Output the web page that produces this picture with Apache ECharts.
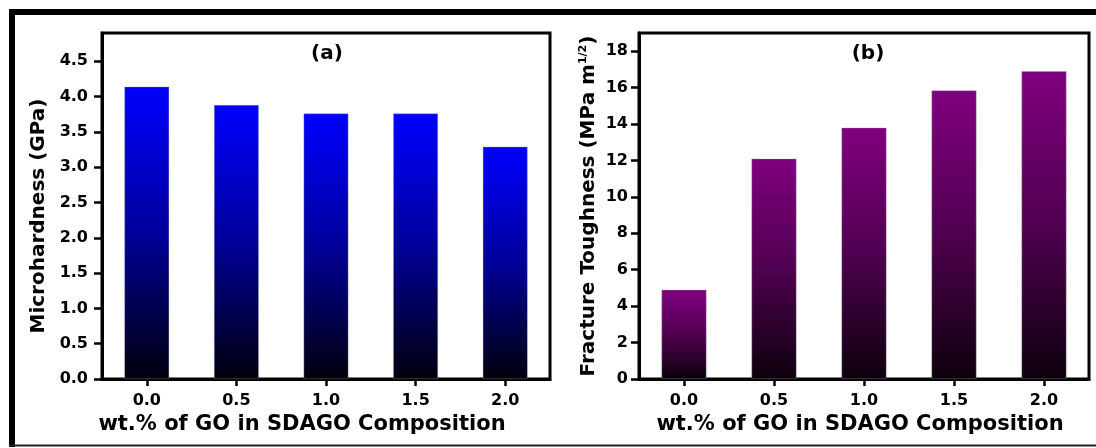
<!DOCTYPE html>
<html>
<head>
<meta charset="utf-8">
<script src="https://cdn.jsdelivr.net/npm/echarts@6.0.0/dist/echarts.min.js"></script>
<style>
  html, body { margin: 0; padding: 0; background: #fff; }
  #chart { width: 1096px; height: 448px; }
</style>
</head>
<body>
<div id="chart"></div>
<script>
// GO content of the SDAGO composites (wt.%)
const categories = ['0.0', '0.5', '1.0', '1.5', '2.0'];
// (a) Vickers microhardness, GPa
const hardness = [4.14, 3.88, 3.76, 3.76, 3.29];
// (b) fracture toughness, MPa m^1/2
const toughness = [4.9, 12.1, 13.8, 15.85, 16.9];
// tick values shown on each value axis
const hardnessTicks = [0, 0.5, 1, 1.5, 2, 2.5, 3, 3.5, 4, 4.5];
const toughnessTicks = [0, 2, 4, 6, 8, 10, 12, 14, 16, 18];

const FONT = 'DejaVu Sans';
const xName = 'wt.% of GO in SDAGO Composition';

function fade(top, mid, bottom) {
  return new echarts.graphic.LinearGradient(0, 0, 0, 1, [
    { offset: 0, color: top },
    { offset: 0.5, color: mid },
    { offset: 1, color: bottom }
  ]);
}

function categoryAxis(gridIndex, namePad) {
  return {
    type: 'category',
    gridIndex,
    data: categories,
    boundaryGap: true,
    name: xName,
    nameLocation: 'middle',
    nameGap: 31,
    nameTextStyle: { fontFamily: FONT, fontWeight: 'bold', fontSize: 21, color: '#000', padding: namePad },
    axisLine: { show: true, lineStyle: { color: '#000', width: 3 } },
    axisTick: { show: true, alignWithLabel: true, inside: false, length: 7, lineStyle: { color: '#000', width: 2.5 } },
    axisLabel: { fontFamily: FONT, fontWeight: 'bold', fontSize: 16, color: '#000', margin: 14 },
    splitLine: { show: false }
  };
}

function valueAxis(gridIndex, max, ticks, fmt, opts) {
  return Object.assign({
    type: 'value',
    gridIndex,
    min: 0,
    max,
    nameLocation: 'middle',
    nameRotate: 90,
    axisLine: { show: true, lineStyle: { color: '#000', width: 3 } },
    axisTick: { show: true, inside: false, length: 8, customValues: ticks, lineStyle: { color: '#000', width: 2.5 } },
    axisLabel: { fontFamily: FONT, fontWeight: 'bold', fontSize: 16, color: '#000', customValues: ticks, formatter: fmt },
    splitLine: { show: false }
  }, opts);
}

const chart = echarts.init(document.getElementById('chart'), null, { renderer: 'canvas' });

chart.setOption({
  backgroundColor: '#fff',
  animation: false,
  title: [
    { text: '(a)', left: 322, top: 39, textAlign: 'center',
      textStyle: { fontFamily: FONT, fontWeight: 'bold', fontSize: 20, color: '#000' } },
    { text: '(b)', left: 863, top: 39, textAlign: 'center',
      textStyle: { fontFamily: FONT, fontWeight: 'bold', fontSize: 20, color: '#000' } }
  ],
  grid: [
    { left: 102, top: 33, width: 448, height: 346, show: true, borderColor: '#000', borderWidth: 3, backgroundColor: 'transparent' },
    { left: 639, top: 33, width: 450, height: 346, show: true, borderColor: '#000', borderWidth: 3, backgroundColor: 'transparent' }
  ],
  xAxis: [categoryAxis(0, [0, 48, 0, 0]), categoryAxis(1, [0, 8, 0, 0])],
  yAxis: [
    valueAxis(0, 4.9, hardnessTicks, v => v.toFixed(1), {
      name: 'Microhardness (GPa)',
      nameGap: 53,
      nameTextStyle: { fontFamily: FONT, fontWeight: 'bold', fontSize: 20, color: '#000', padding: [0, 20, 0, 0] },
      axisLabel: { fontFamily: FONT, fontWeight: 'bold', fontSize: 16, color: '#000', margin: 14,
        customValues: hardnessTicks, formatter: v => v.toFixed(1) }
    }),
    valueAxis(1, 19, toughnessTicks, v => String(v), {
      name: 'Fracture Toughness (MPa m{sup|1/2})',
      nameGap: 40,
      nameTextStyle: {
        fontFamily: FONT, fontWeight: 'bold', fontSize: 20, color: '#000',
        rich: { sup: { fontFamily: FONT, fontWeight: 'bold', fontSize: 11, color: '#000', padding: [0, 0, 10, 0] } }
      },
      axisLabel: { fontFamily: FONT, fontWeight: 'bold', fontSize: 16, color: '#000', margin: 11,
        customValues: toughnessTicks, formatter: v => String(v) }
    })
  ],
  series: [
    {
      type: 'bar',
      xAxisIndex: 0,
      yAxisIndex: 0,
      data: hardness,
      barWidth: '50%',
      itemStyle: { color: fade('#0000ff', '#00009a', '#00000c'), borderColor: 'rgba(150,150,170,0.6)', borderWidth: 0.6 }
    },
    {
      type: 'bar',
      xAxisIndex: 1,
      yAxisIndex: 1,
      data: toughness,
      barWidth: '50%',
      itemStyle: { color: fade('#800080', '#500050', '#0c000c'), borderColor: 'rgba(170,150,170,0.6)', borderWidth: 0.6 }
    }
  ],
  graphic: [
    // page frame: heavy rules along the top and left, thin rule along the bottom
    { type: 'rect', shape: { x: 9, y: 9, width: 1087, height: 6 }, style: { fill: '#000' } },
    { type: 'rect', shape: { x: 9, y: 9, width: 6, height: 438 }, style: { fill: '#000' } },
    { type: 'rect', shape: { x: 9, y: 444.5, width: 1087, height: 2 }, style: { fill: '#222' } }
  ]
});
</script>
</body>
</html>
